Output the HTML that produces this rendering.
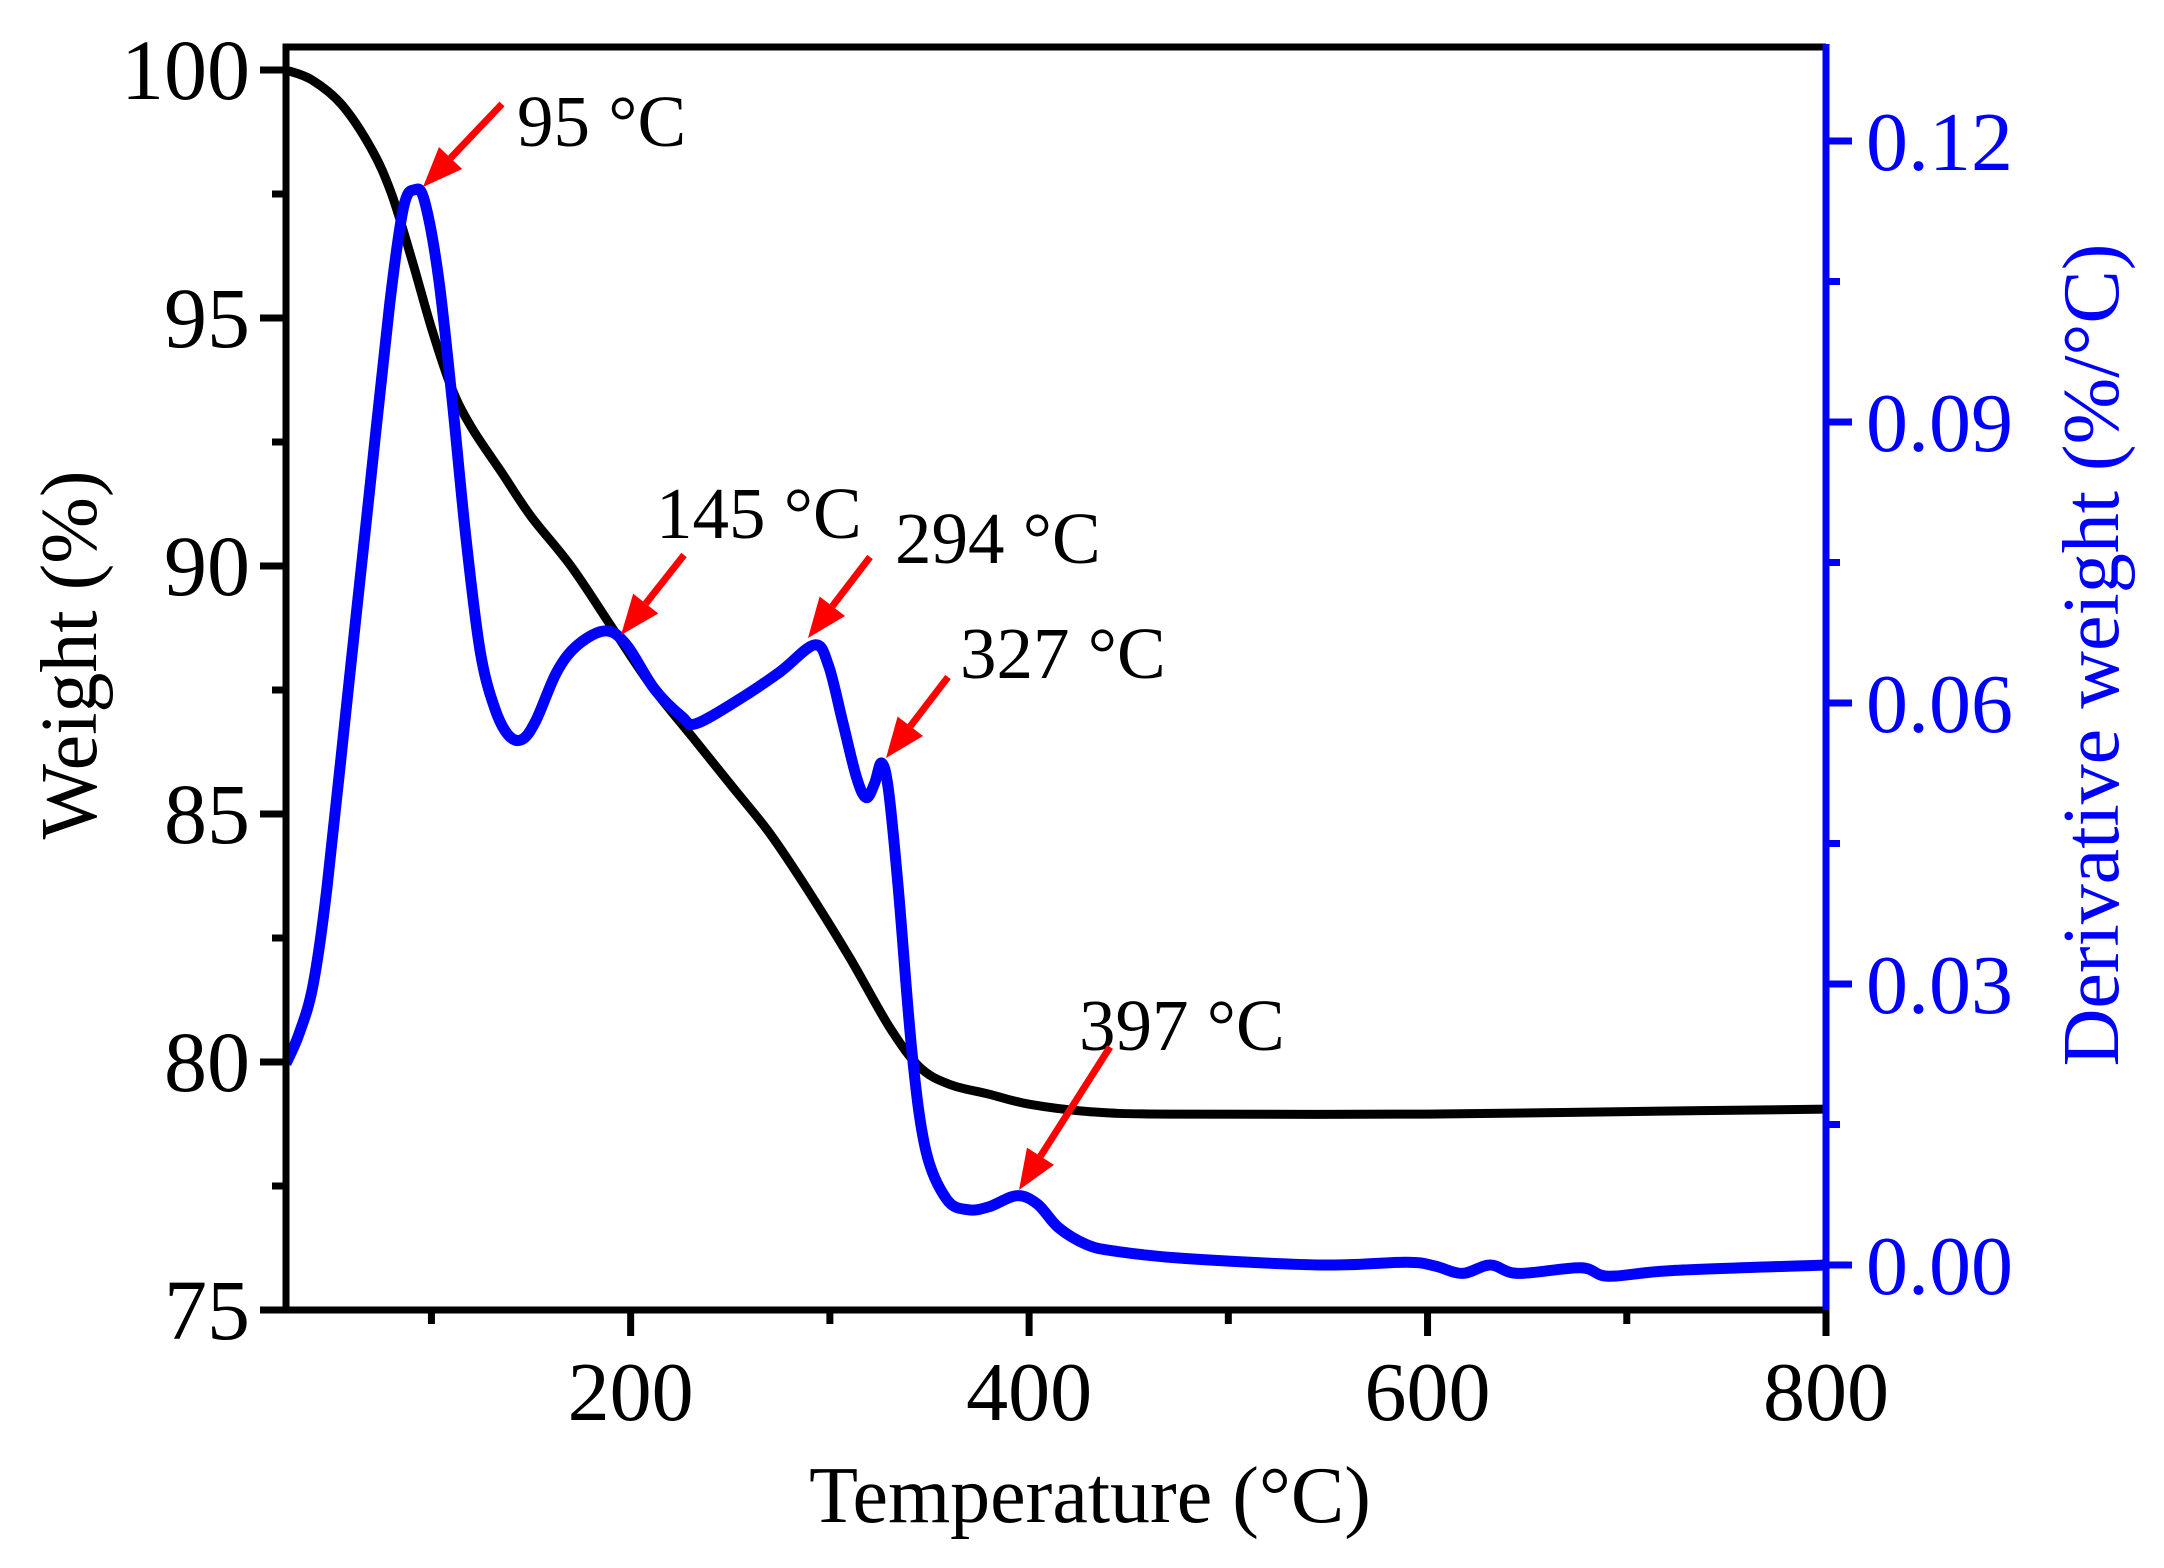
<!DOCTYPE html>
<html><head><meta charset="utf-8"><style>
html,body{margin:0;padding:0;background:#fff;}
svg{display:block;font-family:"Liberation Serif","Times New Roman",serif;}
</style></head><body>
<svg id="chart" width="2164" height="1568" viewBox="0 0 2164 1568" xmlns="http://www.w3.org/2000/svg">
<rect width="2164" height="1568" fill="#fff"/>
<g id="plot"></g>
</svg>
<script>
const tempTicks=[200,400,600,800];
const tempMinor=[100,300,500,700];
const weightTicks=[75,80,85,90,95,100];
const weightMinor=[77.5,82.5,87.5,92.5,97.5];
const derivTicks=[0.00,0.03,0.06,0.09,0.12];
const derivTickLabels=["0.00","0.03","0.06","0.09","0.12"];
const derivMinor=[0.015,0.045,0.075,0.105];
const weightT=[27,40,55,70,80,90,100,110,120,135,150,170,190,210,230,250,270,290,310,330,345,360,380,400,430,470,600,700,800];
const weightV=[100,99.8,99.3,98.4,97.5,96.2,94.8,93.6,92.8,91.9,91.0,90.0,88.8,87.6,86.6,85.6,84.6,83.4,82.1,80.7,79.9,79.55,79.35,79.15,79.0,78.95,78.95,79.0,79.05];
const derivT=[27,33.6,40.6,47.6,58,68.5,79,86,91.6,96.5,103.5,110.5,117.5,124.5,131.5,138.5,145.5,152.4,162.9,173.4,187.4,197.9,211.9,225.9,232.9,253.8,274.8,292.3,299.3,306.3,313.3,318.2,322.4,325.9,329.4,334.3,341.3,348.3,358.7,369.2,379.7,393.7,404.2,414.7,428.7,442.7,477.6,547.6,589.5,603.5,617.5,631.5,645.5,676.9,690.9,722.4,800];
const derivV=[0.0215,0.0247,0.0299,0.0403,0.0610,0.0818,0.1025,0.1129,0.1148,0.1136,0.1055,0.0921,0.0773,0.0655,0.0596,0.0566,0.0561,0.0581,0.0633,0.0662,0.0677,0.0662,0.0615,0.0585,0.0578,0.0603,0.0633,0.0662,0.0640,0.0581,0.0521,0.0499,0.0514,0.0536,0.0507,0.0403,0.0225,0.0121,0.0070,0.0059,0.0062,0.0074,0.0065,0.0040,0.0022,0.0015,0.0007,0.0,0.0003,-0.0001,-0.0009,0.0,-0.0009,-0.0003,-0.0012,-0.0006,0.0];
const peakLabels=["95 °C","145 °C","294 °C","327 °C","397 °C"];

const L=286,R=1826,T=47,B=1310;
const xS=t=>L+(t-27)*(R-L)/(800-27);
const yW=w=>70+(100-w)*(1310-70)/25;
const yD=d=>1265-d*(1265-141)/0.12;
const NS="http://www.w3.org/2000/svg";
const g=document.getElementById('plot');
function el(tag,attrs,parent){const e=document.createElementNS(NS,tag);for(const k in attrs)e.setAttribute(k,attrs[k]);(parent||g).appendChild(e);return e;}
function smooth(xs,ys){let p=[];for(let i=0;i<xs.length;i++)p.push([xs[i],ys[i]]);
 let d='M'+p[0][0].toFixed(1)+','+p[0][1].toFixed(1);
 for(let i=0;i<p.length-1;i++){const p0=p[Math.max(0,i-1)],p1=p[i],p2=p[i+1],p3=p[Math.min(p.length-1,i+2)];
  const c1=[p1[0]+(p2[0]-p0[0])/6,p1[1]+(p2[1]-p0[1])/6],c2=[p2[0]-(p3[0]-p1[0])/6,p2[1]-(p3[1]-p1[1])/6];
  d+=' C'+c1[0].toFixed(1)+','+c1[1].toFixed(1)+' '+c2[0].toFixed(1)+','+c2[1].toFixed(1)+' '+p2[0].toFixed(1)+','+p2[1].toFixed(1);}
 return d;}

let wl=el('path',{d:smooth(weightT.map(xS),weightV.map(yW)),fill:'none',stroke:'#000','stroke-width':9,'stroke-linejoin':'round'});


let dl=el('path',{d:smooth(derivT.map(xS),derivV.map(yD)),fill:'none',stroke:'#0000ff','stroke-width':11,'stroke-linejoin':'round'});



let fr=el('path',{d:`M${L},${B} L${L},${T} L${R},${T}`,fill:'none',stroke:'#000','stroke-width':7});


let bx=el('line',{x1:L,y1:B,x2:R,y2:B,stroke:'#000','stroke-width':7});


let ra=el('line',{x1:R,y1:T-3,x2:R,y2:B+3,stroke:'#0000ff','stroke-width':7});



tempTicks.forEach(t=>{el('line',{x1:xS(t),y1:B,x2:xS(t),y2:B+26,stroke:'#000','stroke-width':7});
 let tx=el('text',{x:xS(t),y:1420,'font-size':84,'text-anchor':'middle',fill:'#000'});tx.textContent=t;
 
 });
tempMinor.forEach(t=>el('line',{x1:xS(t),y1:B,x2:xS(t),y2:B+14,stroke:'#000','stroke-width':7}));
weightTicks.forEach(w=>{el('line',{x1:L-26,y1:yW(w),x2:L,y2:yW(w),stroke:'#000','stroke-width':7});
 let tx=el('text',{x:250,y:yW(w)+29,'font-size':86,'text-anchor':'end',fill:'#000'});tx.textContent=w;
 
 });
weightMinor.forEach(w=>el('line',{x1:L-14,y1:yW(w),x2:L,y2:yW(w),stroke:'#000','stroke-width':7}));
derivTicks.forEach((d,i)=>{el('line',{x1:R,y1:yD(d),x2:R+26,y2:yD(d),stroke:'#0000ff','stroke-width':7});
 let tx=el('text',{x:1866,y:yD(d)+29,'font-size':84,'text-anchor':'start',fill:'#0000ff'});tx.textContent=derivTickLabels[i];
 
 });
derivMinor.forEach(d=>el('line',{x1:R,y1:yD(d),x2:R+14,y2:yD(d),stroke:'#0000ff','stroke-width':7}));

let xt=el('text',{x:1090,y:1522,'font-size':80,'text-anchor':'middle',fill:'#000'});xt.textContent='Temperature (°C)';


let lt=el('text',{x:0,y:0,'font-size':80,'text-anchor':'middle',fill:'#000',transform:'translate(96,655) rotate(-90)'});lt.textContent='Weight (%)';


let rt=el('text',{x:0,y:0,'font-size':80,'text-anchor':'middle',fill:'#0000ff',transform:'translate(2118,655) rotate(-90)'});rt.textContent='Derivative weight (%/°C)';



const annX=[517,656,895,960,1079],annY=[146,538,563,678,1050];
const arr=[[502,104,423,187],[684,555,621,635],[870,557,808,638],[948,677,886,758],[1110,1047,1019,1190]];
peakLabels.forEach((s,i)=>{let tx=el('text',{x:annX[i],y:annY[i],'font-size':73,fill:'#000'});tx.textContent=s;
 
 
 const [x1,y1,x2,y2]=arr[i];const dx=x2-x1,dy=y2-y1,len=Math.hypot(dx,dy),ux=dx/len,uy=dy/len;
 const hx=x2-ux*40,hy=y2-uy*40;
 el('line',{x1:x1,y1:y1,x2:hx,y2:hy,stroke:'#ff0000','stroke-width':7});
 let ah=el('polygon',{points:`${x2},${y2} ${hx-uy*16},${hy+ux*16} ${hx+uy*16},${hy-ux*16}`,fill:'#ff0000'});
 
 });
</script>
</body></html>
